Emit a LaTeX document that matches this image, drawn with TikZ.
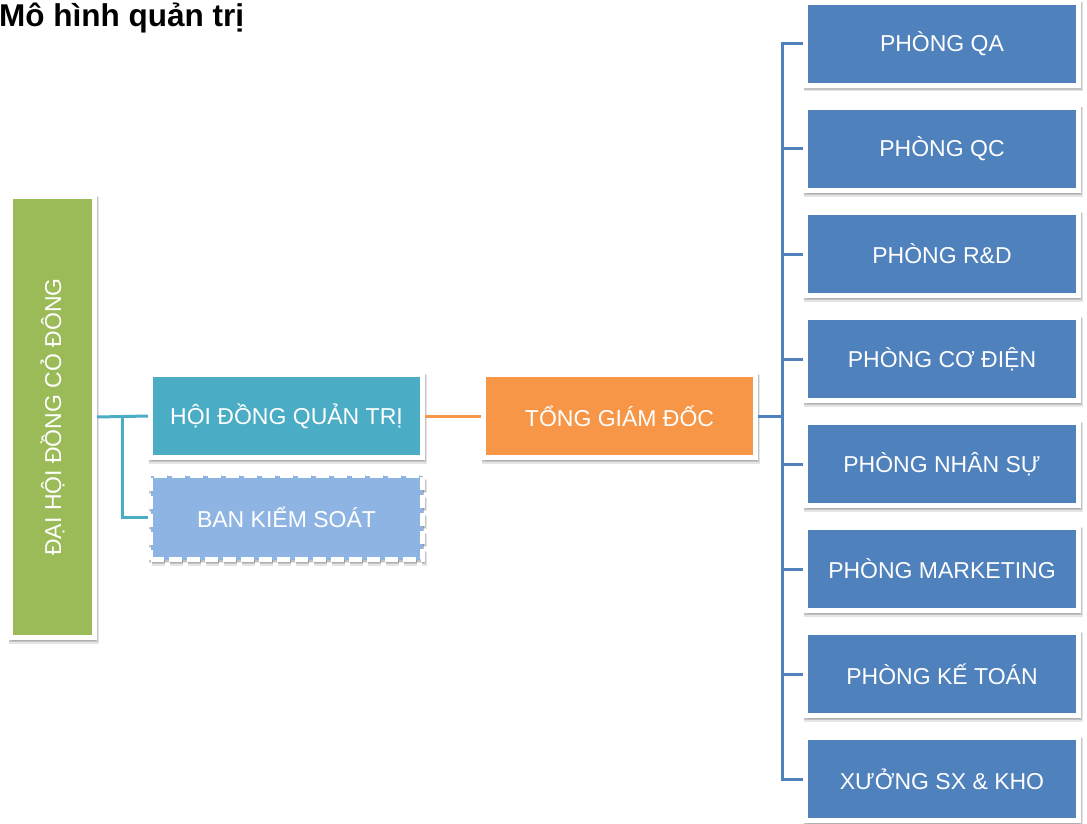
\documentclass[tikz,border=0pt]{standalone}
\usepackage{fontspec}
\setmainfont{Liberation Sans}
\usetikzlibrary{shadows}
\definecolor{cgreen}{HTML}{9BBB59}
\definecolor{cteal}{HTML}{4BACC6}
\definecolor{clight}{HTML}{8EB4E3}
\definecolor{corange}{HTML}{F79646}
\definecolor{cblue}{HTML}{4F81BD}
\begin{document}
\begin{tikzpicture}[x=1pt,y=-1pt,
  box/.style={draw=white, line width=5pt, text=white, inner sep=0pt,
    font=\fontsize{23}{26}\selectfont,
    general shadow={fill=black, draw=black, line width=6pt, opacity=0.10, shadow xshift=1pt, shadow yshift=-3pt},
    general shadow={fill=black, draw=black, line width=5pt, opacity=0.15, shadow xshift=1pt, shadow yshift=-2pt}},
  dept/.style={box, fill=cblue, minimum width=273pt, minimum height=83pt},
  conn/.style={line width=3pt}]
\useasboundingbox (0,0) rectangle (1087,824);
\node[anchor=base west, inner sep=0pt, font=\fontsize{31.5}{34}\selectfont\bfseries] (title) at (-1,27) {Mô hình quản trị};
% left column
\node[box, fill=cgreen, minimum width=84pt, minimum height=441pt] (dhd) at (52.5,417) {};
\node[rotate=90, text=white, font=\fontsize{23}{26}\selectfont] (dhdt) at (dhd.center) {ĐẠI HỘI ĐỒNG CỎ ĐÔNG};
\node[box, fill=cteal, minimum width=272pt, minimum height=83pt] (hdqt) at (286.5,416) {HỘI ĐỒNG QUẢN TRỊ};
\node[box, fill=clight, dashed, dash pattern=on 13pt off 5pt, minimum width=272pt, minimum height=84pt] (bks) at (286.5,517.5) {BAN KIỂM SOÁT};
\node[box, fill=corange, minimum width=272pt, minimum height=83pt] (tgd) at (619.5,416) {TỔNG GIÁM ĐỐC};
% departments
\foreach \n/\t [count=\i from 0] in {qa/PHÒNG QA, qc/PHÒNG QC, rd/PHÒNG R\&D, cd/PHÒNG CƠ ĐIỆN, ns/PHÒNG NHÂN SỰ, mk/PHÒNG MARKETING, kt/PHÒNG KẾ TOÁN, sx/XƯỞNG SX \& KHO}
  \node[dept] (\n) at (942,44+105*\i) {\t};
% connectors
\coordinate (jl) at (122,417);
\draw[conn, cteal] (dhd.east) -- (hdqt.west);
\draw[conn, cteal, line join=miter] (jl) |- (bks.west);
\draw[conn, corange] (hdqt.east) -- (tgd.west);
\coordinate (jr) at (782,416);
\draw[conn, cblue] (tgd.east) -- (jr);
\draw[conn, cblue, line cap=rect] (qa.west -| jr) -- (sx.west -| jr);
\foreach \n in {qa,qc,rd,cd,ns,mk,kt,sx}
  \draw[conn, cblue] (\n.west -| jr) -- (\n.west);
\end{tikzpicture}
\end{document}
